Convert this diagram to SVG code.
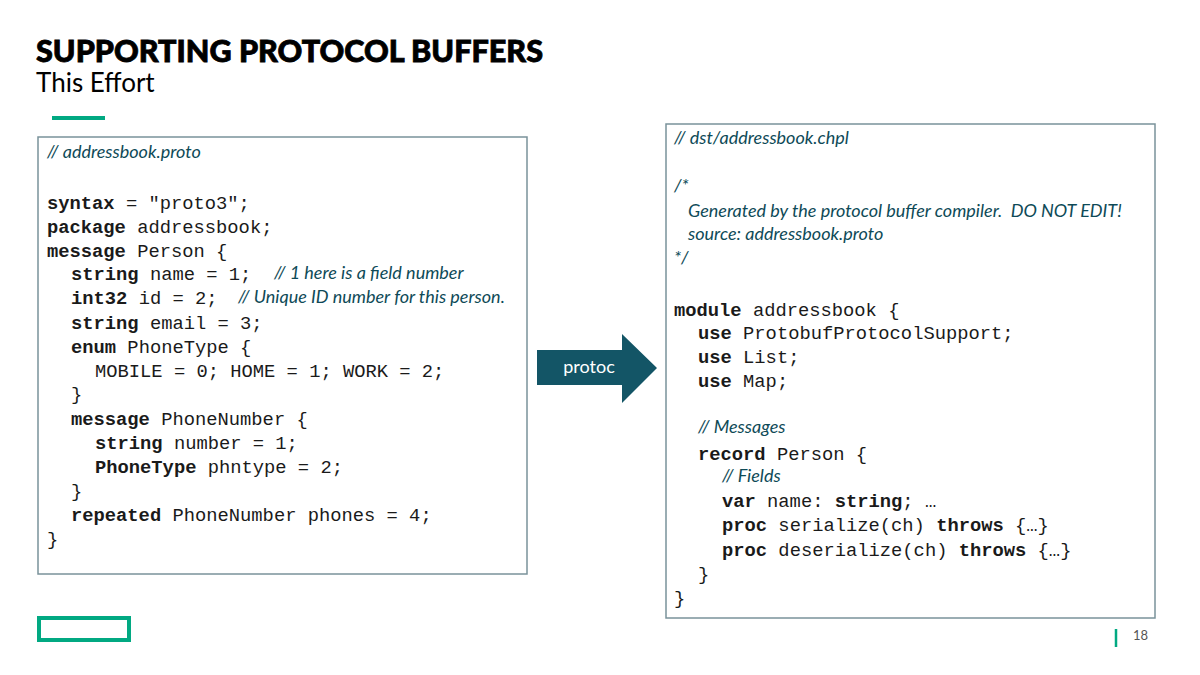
<svg xmlns="http://www.w3.org/2000/svg" width="1200" height="675" viewBox="0 0 1200 675">
<style>
.m{font-family:"Liberation Mono",monospace;font-size:18.8px;fill:#1a1a1a;white-space:pre}
.b{font-weight:bold}
.c{font-family:Lato,"Open Sans",sans-serif;font-style:italic;font-size:18px;fill:#0e4a57;white-space:pre}
.box{fill:#fff;stroke:#7a929a;stroke-width:1.5}
</style>
<rect width="1200" height="675" fill="#fff"/>
<text x="36" y="62" font-family="Lato,'Liberation Sans',sans-serif" font-weight="900" font-size="29.5" fill="#000" stroke="#000" stroke-width="0.8" textLength="507" lengthAdjust="spacingAndGlyphs">SUPPORTING PROTOCOL BUFFERS</text>
<text x="36" y="92" font-family="Lato,'Liberation Sans',sans-serif" font-size="26" fill="#000">This Effort</text>
<rect x="52" y="116" width="53" height="4" fill="#01a982"/>
<g id="proto">
<rect class="box" x="38" y="137" width="489" height="437"/>
<text class="c" x="47" y="158">// addressbook.proto</text>
<text class="m" x="47" y="209"><tspan class="b">syntax</tspan> = "proto3";</text>
<text class="m" x="47" y="233"><tspan class="b">package</tspan> addressbook;</text>
<text class="m" x="47" y="257"><tspan class="b">message</tspan> Person {</text>
<text class="m" x="71" y="280"><tspan class="b">string</tspan> name = 1;</text>
<text class="c" x="274" y="279">// 1 here is a field number</text>
<text class="m" x="71" y="304"><tspan class="b">int32</tspan> id = 2;</text>
<text class="c" x="238" y="303">// Unique ID number for this person.</text>
<text class="m" x="71" y="329"><tspan class="b">string</tspan> email = 3;</text>
<text class="m" x="71" y="353"><tspan class="b">enum</tspan> PhoneType {</text>
<text class="m" x="95" y="377">MOBILE = 0; HOME = 1; WORK = 2;</text>
<text class="m" x="71" y="400">}</text>
<text class="m" x="71" y="425"><tspan class="b">message</tspan> PhoneNumber {</text>
<text class="m" x="95" y="449"><tspan class="b">string</tspan> number = 1;</text>
<text class="m" x="95" y="473"><tspan class="b">PhoneType</tspan> phntype = 2;</text>
<text class="m" x="71" y="497">}</text>
<text class="m" x="71" y="521"><tspan class="b">repeated</tspan> PhoneNumber phones = 4;</text>
<text class="m" x="47" y="545">}</text>
</g>
<g id="connectors">
<polygon points="537,350 622,350 622,334 657,368 622,403 622,385 537,385" fill="#135566"/>
<text x="589" y="373" text-anchor="middle" font-family="Lato,'Open Sans',sans-serif" font-size="18" fill="#fff">protoc</text>
</g>
<g id="chpl">
<rect class="box" x="666" y="124" width="489" height="494"/>
<text class="c" x="674" y="144">// dst/addressbook.chpl</text>
<text class="c" x="674" y="192">/*</text>
<text class="c" x="688" y="217">Generated by the protocol buffer compiler.  DO NOT EDIT!</text>
<text class="c" x="688" y="240">source: addressbook.proto</text>
<text class="c" x="674" y="264">*/</text>
<text class="m" x="674" y="316"><tspan class="b">module</tspan> addressbook {</text>
<text class="m" x="698" y="339"><tspan class="b">use</tspan> ProtobufProtocolSupport;</text>
<text class="m" x="698" y="363"><tspan class="b">use</tspan> List;</text>
<text class="m" x="698" y="387"><tspan class="b">use</tspan> Map;</text>
<text class="c" x="698" y="433">// Messages</text>
<text class="m" x="698" y="460"><tspan class="b">record</tspan> Person {</text>
<text class="c" x="722" y="482">// Fields</text>
<text class="m" x="722" y="507"><tspan class="b">var</tspan> name: <tspan class="b">string</tspan>; …</text>
<text class="m" x="722" y="531"><tspan class="b">proc</tspan> serialize(ch) <tspan class="b">throws</tspan> {…}</text>
<text class="m" x="722" y="556"><tspan class="b">proc</tspan> deserialize(ch) <tspan class="b">throws</tspan> {…}</text>
<text class="m" x="698" y="580">}</text>
<text class="m" x="674" y="604">}</text>
</g>
<rect x="39" y="618" width="90" height="22" fill="none" stroke="#01a982" stroke-width="4"/>
<line x1="1116" y1="629" x2="1116" y2="647" stroke="#01a982" stroke-width="2.5"/>
<text x="1133" y="640" font-family="Lato,'Liberation Sans',sans-serif" font-size="13" fill="#555">18</text>
</svg>
